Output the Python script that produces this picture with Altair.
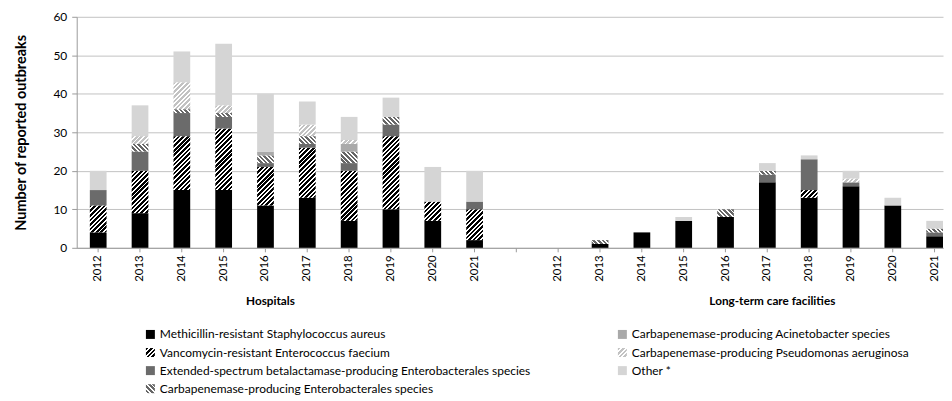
import math
import altair as alt

# ---------------- data ----------------
years = list(range(2012, 2022))
setting_keys = ["H", "L"]
setting_names = ["Hospitals", "Long-term care facilities"]
setting_label_at = ["H2016", "L2017"]

pathogens = ["MRSA", "VRE", "ESBL", "CPE", "ACI", "PSA", "OTH"]
pathogen_labels = [
    "Methicillin-resistant Staphylococcus aureus",
    "Vancomycin-resistant Enterococcus faecium",
    "Extended-spectrum betalactamase-producing Enterobacterales species",
    "Carbapenemase-producing Enterobacterales species",
    "Carbapenemase-producing Acinetobacter species",
    "Carbapenemase-producing Pseudomonas aeruginosa",
    "Other *",
]

# Hospitals 2012..2021
mrsa_h = [4, 9, 15, 15, 11, 13, 7, 10, 7, 2]
vre_h = [7, 11, 14, 16, 10, 13, 13, 19, 5, 8]
esbl_h = [4, 5, 6, 3, 1, 1, 2, 3, 0, 2]
cpe_h = [0, 2, 1, 1, 2, 2, 3, 2, 0, 0]
aci_h = [0, 0, 0, 0, 1, 0, 2, 0, 0, 0]
psa_h = [0, 2, 7, 2, 0, 3, 1, 0, 0, 0]
oth_h = [5, 8, 8, 16, 15, 6, 6, 5, 9, 8]

# Long-term care facilities 2012..2021
mrsa_l = [0, 1, 4, 7, 8, 17, 13, 16, 11, 3]
vre_l = [0, 0, 0, 0, 0, 0, 2, 0, 0, 0]
esbl_l = [0, 0, 0, 0, 0, 2, 8, 1, 0, 1]
cpe_l = [0, 1, 0, 0, 2, 1, 0, 0, 0, 1]
aci_l = [0, 0, 0, 0, 0, 0, 0, 0, 0, 0]
psa_l = [0, 0, 0, 0, 0, 0, 0, 1, 0, 0]
oth_l = [0, 0, 0, 1, 0, 2, 1, 2, 2, 2]

series = {
    "H": [mrsa_h, vre_h, esbl_h, cpe_h, aci_h, psa_h, oth_h],
    "L": [mrsa_l, vre_l, esbl_l, cpe_l, aci_l, psa_l, oth_l],
}

# ---------------- layout / style ----------------
W, H = 870, 232
YMAX = 60
P_IN, P_OUT = 0.6, 0.157
FONT = "Lato"

domain_keys = [f"H{y}" for y in years] + ["gap"] + [f"L{y}" for y in years]
STEP = W / (len(domain_keys) - P_IN + 2 * P_OUT)
BAR_W = STEP * (1 - P_IN)
PPU = H / YMAX

STYLE = {
    "MRSA": ("solid", "#000000"),
    "VRE": ("hatch", "#000000", "#ffffff", "/"),
    "ESBL": ("solid", "#6b6b6b"),
    "CPE": ("hatch", "#666666", "#ffffff", "\\"),
    "ACI": ("solid", "#a9a9a9"),
    "PSA": ("hatch", "#c2c2c2", "#ffffff", "/"),
    "OTH": ("solid", "#d5d5d5"),
}


def hatch(w, h, fg, bg, direction, period=4.6, duty=0.58):
    r = h / w
    a = (1 + r) / (1 + r * r)
    b = r * a
    if direction == "/":
        x1, y1, x2, y2 = 0, 0, a, b
    else:
        x1, y1, x2, y2 = 1, 0, 1 - a, b
    n = (w + h) / period
    stops = []
    k = 0
    while k / n < 1:
        s0 = k / n
        s1 = min((k + duty) / n, 1)
        s2 = min((k + 1) / n, 1)
        stops += [
            {"offset": s0, "color": fg},
            {"offset": s1, "color": fg},
            {"offset": s1, "color": bg},
            {"offset": s2, "color": bg},
        ]
        k += 1
    return {"gradient": "linear", "x1": x1, "y1": y1, "x2": x2, "y2": y2, "stops": stops}


def fill_for(name, w, h):
    st = STYLE[name]
    if st[0] == "solid":
        return st[1]
    return hatch(w, h, st[1], st[2], st[3])


rows = []
for key in setting_keys:
    for p, name in enumerate(pathogens):
        vals = series[key][p]
        for i, y in enumerate(years):
            v = vals[i]
            if v > 0:
                rows.append({
                    "cat": f"{key}{y}",
                    "pathogen": name,
                    "order": p,
                    "value": v,
                    "fill": fill_for(name, BAR_W, v * PPU),
                })

legend_rows = []
for p, name in enumerate(pathogens):
    col = 0 if p < 4 else 1
    row = p if p < 4 else p - 4
    legend_rows.append({
        "col": col, "row": row, "label": pathogen_labels[p],
        "fill": fill_for(name, 9, 9),
    })

group_rows = [{"cat": c, "name": n} for c, n in zip(setting_label_at, setting_names)]
group_expr = " : ".join(
    f"datum.value == '{c}' ? '{n}'" for c, n in zip(setting_label_at, setting_names)
) + " : ''"

AXIS_GREY = "#9a9a9a"


def xscale():
    return alt.Scale(type="band", domain=domain_keys, paddingInner=P_IN,
                     paddingOuter=P_OUT, align=1, round=False)


bars = alt.Chart(alt.Data(values=rows)).transform_stack(
    stack="value", groupby=["cat"],
    sort=[alt.SortField("order", order="ascending")], as_=["y0", "y1"],
).mark_bar(strokeWidth=0).encode(
    x=alt.X("cat:N", scale=xscale(), title=None,
            axis=alt.Axis(labelExpr="datum.value == 'gap' ? '' : substring(datum.value, 1)",
                          labelAngle=-90, labelFontSize=11.5, labelPadding=3,
                          tickSize=4, tickColor=AXIS_GREY, domainColor=AXIS_GREY,
                          labelColor="#000000", grid=False, labelOverlap=False)),
    y=alt.Y("y0:Q", scale=alt.Scale(domain=[0, YMAX], nice=False),
            axis=alt.Axis(values=list(range(0, YMAX + 1, 10)),
                          title="Number of reported outbreaks",
                          titleFontSize=14.5, titleFontWeight="bold", titleColor="#000000",
                          titlePadding=25, labelFontSize=12, labelPadding=5,
                          labelColor="#000000", tickSize=5, tickColor=AXIS_GREY,
                          domainColor=AXIS_GREY, gridColor="#c2c2c2")),
    y2="y1:Q",
    fill=alt.Fill("fill:N", scale=None, legend=None),
)

groups = alt.Chart(alt.Data(values=group_rows)).mark_text(opacity=0).encode(
    x=alt.X("cat:N", scale=xscale(), title=None,
            axis=alt.Axis(orient="bottom", offset=48, labelExpr=group_expr,
                          labelAngle=0, labelAlign="center", labelFontSize=11.8,
                          labelFontWeight="bold", labelOffset=5,
                          labelColor="#000000", labelPadding=0, tickSize=0,
                          ticks=False, domain=False, grid=False,
                          labelOverlap=False)),
    text="name:N",
)

lx = alt.X("col:Q", scale=alt.Scale(domain=[0, 1], range=[74, 548]), axis=None)
ly = alt.Y("row:Q", scale=alt.Scale(domain=[0, 3], range=[319, 373.5], nice=False, zero=False),
           axis=None)
legend_base = alt.Chart(alt.Data(values=legend_rows))
leg_sym = legend_base.mark_square(size=81, strokeWidth=0, opacity=1).encode(
    x=lx, y=ly, fill=alt.Fill("fill:N", scale=None, legend=None))
leg_txt = legend_base.mark_text(align="left", dx=9.5, fontSize=12, color="#000000").encode(
    x=lx, y=ly, text="label:N")

chart = alt.layer(bars, groups, leg_sym, leg_txt).resolve_scale(
    x="independent", y="independent"
).resolve_axis(x="independent", y="independent").properties(
    width=W, height=H,
    padding={"left": 5, "top": 2, "right": 0, "bottom": 0},
).configure(font=FONT).configure_view(stroke=None)

chart.save("out.html", embed_options={"renderer": "svg", "actions": False})
